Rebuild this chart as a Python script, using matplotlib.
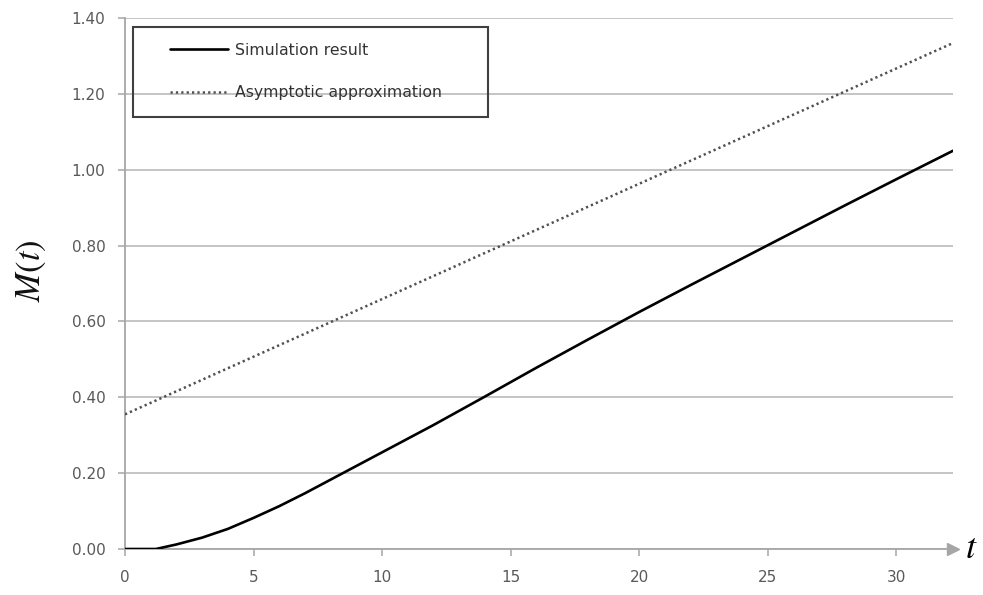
import matplotlib
matplotlib.use("Agg")
import matplotlib.pyplot as plt
from matplotlib.patches import Rectangle

plt.rcParams["mathtext.fontset"] = "stix"

# Simulated mean M(t) against time t
t_sim = [0, 1, 1.2, 2, 3, 4, 5, 6, 7, 8, 9, 10, 12, 14, 16, 18, 20, 22, 24, 26, 28, 30, 32.2]
m_sim = [0.0, 0.0, 0.0, 0.012, 0.030, 0.053, 0.082, 0.113, 0.147, 0.183, 0.219, 0.255,
         0.327, 0.402, 0.478, 0.552, 0.625, 0.696, 0.766, 0.836, 0.906, 0.975, 1.050]

# Straight-line asymptote
t_asym = [0, 32.2]
m_asym = [0.355, 1.334]

x_ticks = [0, 5, 10, 15, 20, 25, 30]
y_ticks = [0.0, 0.2, 0.4, 0.6, 0.8, 1.0, 1.2, 1.4]

grid_c = "#bfbfbf"
axis_c = "#a6a6a6"
label_c = "#595959"

W, H = 983, 595
fig = plt.figure(figsize=(W / 100, H / 100), dpi=100)
ax = fig.add_axes([125 / W, 1 - 549 / H, (953 - 125) / W, (549 - 18) / H])

ax.plot(t_sim, m_sim, color="black", lw=1.9, solid_capstyle="round",
        label="Simulation result", zorder=3)
ax.plot(t_asym, m_asym, color="#505050", lw=1.8, linestyle=(0, (0.9, 1.25)),
        label="Asymptotic approximation", zorder=3)

ax.set_xlim(0, 32.2)
ax.set_ylim(0, 1.4)
ax.set_xticks(x_ticks)
ax.set_yticks(y_ticks)
ax.set_yticklabels([f"{v:.2f}" for v in y_ticks])

ax.yaxis.grid(True, color=grid_c, lw=1.3)
ax.set_axisbelow(True)
for s in ("top", "right"):
    ax.spines[s].set_visible(False)
for s in ("left", "bottom"):
    ax.spines[s].set_color(axis_c)
    ax.spines[s].set_linewidth(1.3)

ax.tick_params(axis="both", colors=axis_c, labelcolor=label_c, labelsize=11,
               length=5, width=1.1)
ax.tick_params(axis="x", pad=10)
ax.tick_params(axis="y", pad=9)

# Arrow head at the end of the time axis
ax.plot(1.0, 0, marker=">", markersize=9, color=axis_c, transform=ax.get_yaxis_transform(),
        clip_on=False, zorder=4)

ax.text(1.014, 0.003, "$t$", transform=ax.get_yaxis_transform(), fontsize=26,
        va="center", ha="left", color="black")
ax.set_ylabel("$M(t)$", fontsize=25, color="#111111")
ax.yaxis.set_label_coords(-0.093, 0.525)

# Legend entries, with a separately drawn frame around them
leg = ax.legend(loc="upper left", bbox_to_anchor=(0.054, 0.953),
                frameon=False, fontsize=11.3, handlelength=3.7,
                handletextpad=0.45, labelspacing=1.75, borderpad=0,
                borderaxespad=0)
for txt in leg.get_texts():
    txt.set_color("#333333")

frame = Rectangle((133 / W, 1 - 117 / H), (488 - 133) / W, (117 - 27) / H,
                  transform=fig.transFigure, fill=False, edgecolor="#404040",
                  linewidth=1.5, zorder=5)
fig.patches.append(frame)

fig.savefig("out.png", dpi=100)
